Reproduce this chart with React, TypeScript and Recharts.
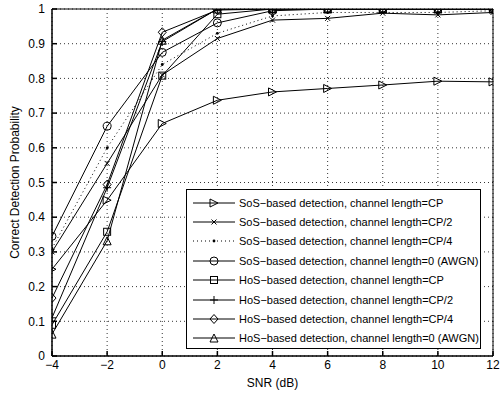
import React from "react";
import {
    CartesianGrid,
    Legend,
    Line,
    LineChart,
    ReferenceLine,
    XAxis,
    YAxis
} from "recharts";

const snr = [-4, -2, 0, 2, 4, 6, 8, 10, 12];
const xTicks = [-4, -2, 0, 2, 4, 6, 8, 10, 12];
const yTicks = [0, 0.1, 0.2, 0.3, 0.4, 0.5, 0.6, 0.7, 0.8, 0.9, 1];

const sosCP = [0.25, 0.449, 0.67, 0.737, 0.761, 0.771, 0.781, 0.792, 0.79];
const sosCP2 = [0.3, 0.555, 0.81, 0.915, 0.968, 0.973, 0.988, 0.983, 0.99];
const sosCP4 = [0.31, 0.6, 0.84, 0.93, 0.98, 0.99, 0.99, 0.99, 0.995];
const sosAWGN = [0.345, 0.662, 0.875, 0.96, 0.995, 1, 1, 1, 1];
const hosCP = [0.09, 0.358, 0.808, 0.985, 1, 1, 1, 1, 1];
const hosCP2 = [0.11, 0.485, 0.906, 1, 1, 1, 1, 1, 1];
const hosCP4 = [0.167, 0.494, 0.933, 0.997, 1, 1, 1, 1, 1];
const hosAWGN = [0.063, 0.332, 0.91, 1, 1, 1, 1, 1, 1];

const seriesNames = [
    "SoS\u2212based detection, channel length=CP",
    "SoS\u2212based detection, channel length=CP/2",
    "SoS\u2212based detection, channel length=CP/4",
    "SoS\u2212based detection, channel length=0 (AWGN)",
    "HoS\u2212based detection, channel length=CP",
    "HoS\u2212based detection, channel length=CP/2",
    "HoS\u2212based detection, channel length=CP/4",
    "HoS\u2212based detection, channel length=0 (AWGN)"
];

type Shape = "tright" | "x" | "dot" | "circle" | "square" | "plus" | "diamond" | "tup";

const series: { key: string; name: string; values: number[]; shape: Shape; dashed?: boolean }[] = [
    {key: "sosCP", name: seriesNames[0], values: sosCP, shape: "tright"},
    {key: "sosCP2", name: seriesNames[1], values: sosCP2, shape: "x"},
    {key: "sosCP4", name: seriesNames[2], values: sosCP4, shape: "dot", dashed: true},
    {key: "sosAWGN", name: seriesNames[3], values: sosAWGN, shape: "circle"},
    {key: "hosCP", name: seriesNames[4], values: hosCP, shape: "square"},
    {key: "hosCP2", name: seriesNames[5], values: hosCP2, shape: "plus"},
    {key: "hosCP4", name: seriesNames[6], values: hosCP4, shape: "diamond"},
    {key: "hosAWGN", name: seriesNames[7], values: hosAWGN, shape: "tup"}
];

const data = snr.map((x, i) => {
    const row: Record<string, number> = {snr: x};
    series.forEach(s => {
        row[s.key] = s.values[i];
    });
    return row;
});

const marker = (shape: Shape, cx: number, cy: number, key?: string) => {
    const r = 4;
    const common = {fill: "none", stroke: "#000", strokeWidth: 1};
    switch (shape) {
        case "tright":
            return <polygon key={key} {...common} points={`${cx - r},${cy - r} ${cx + r},${cy} ${cx - r},${cy + r}`}/>;
        case "tup":
            return <polygon key={key} {...common} points={`${cx},${cy - r} ${cx + r},${cy + r} ${cx - r},${cy + r}`}/>;
        case "x":
            return <path key={key} {...common} d={`M${cx - 2.5},${cy - 2.5}L${cx + 2.5},${cy + 2.5}M${cx - 2.5},${cy + 2.5}L${cx + 2.5},${cy - 2.5}`}/>;
        case "plus":
            return <path key={key} {...common} d={`M${cx - r},${cy}L${cx + r},${cy}M${cx},${cy - r}L${cx},${cy + r}`}/>;
        case "dot":
            return <circle key={key} cx={cx} cy={cy} r={1.4} fill="#000"/>;
        case "circle":
            return <circle key={key} {...common} cx={cx} cy={cy} r={r}/>;
        case "square":
            return <rect key={key} {...common} x={cx - 3.5} y={cy - 3.5} width={7} height={7}/>;
        case "diamond":
            return <polygon key={key} {...common} points={`${cx},${cy - r - 0.5} ${cx + r},${cy} ${cx},${cy + r + 0.5} ${cx - r},${cy}`}/>;
    }
};

const LegendBox = () => (
    <div style={{
        border: "1px solid #000",
        background: "#fff",
        padding: "3px 0 4px 0",
        boxSizing: "border-box",
        width: 295,
        height: 160,
        fontFamily: "'Liberation Sans', Arial, sans-serif",
        fontSize: 11,
        color: "#000"
    }}>
        {series.map(s => (
            <div key={s.key} style={{display: "flex", alignItems: "center", height: 19.4}}>
                <svg width={52} height={12} style={{flex: "none"}}>
                    <line x1={6} x2={48} y1={6} y2={6} stroke="#000" strokeWidth={1}
                          strokeDasharray={s.dashed ? "1 3" : undefined}/>
                    {marker(s.shape, 27, 6)}
                </svg>
                <span style={{whiteSpace: "nowrap"}}>{s.name}</span>
            </div>
        ))}
    </div>
);

const tickStyle = {fill: "#000", fontSize: 12, fontFamily: "'Liberation Sans', Arial, sans-serif"};

const App = () => {
    return (
        <div style={{position: "absolute", left: 0, top: 0, background: "#fff"}}>
            <LineChart width={500} height={396} data={data}
                       margin={{top: 9, right: 7, bottom: 0, left: 0}}>
                <CartesianGrid stroke="#000" strokeDasharray="1 3" strokeWidth={0.8}/>
                <XAxis type="number" dataKey="snr" domain={[-4, 12]} ticks={xTicks}
                       allowDataOverflow height={40} stroke="#000" strokeWidth={1.5}
                       tickSize={-5} tickMargin={9} tick={tickStyle}
                       tickFormatter={(v: number) => (v < 0 ? "\u2212" + Math.abs(v) : String(v))}
                       label={{value: "SNR (dB)", position: "insideBottom", offset: 9, ...tickStyle}}/>
                <YAxis type="number" domain={[0, 1]} ticks={yTicks} width={52}
                       allowDataOverflow stroke="#000" strokeWidth={1.5}
                       tickSize={-5} tickMargin={12} tick={tickStyle}
                       tickFormatter={(v: number) => String(Math.round(v * 10) / 10)}
                       label={{
                           value: "Correct Detection Probability",
                           angle: -90,
                           position: "insideLeft",
                           offset: 15,
                           style: {textAnchor: "middle"},
                           ...tickStyle
                       }}/>
                <ReferenceLine y={1} stroke="#000" strokeWidth={1}/>
                <ReferenceLine x={12} stroke="#000" strokeWidth={1}/>
                {series.map(s => (
                    <Line key={s.key} dataKey={s.key} name={s.name} type="linear"
                          stroke="#000" strokeWidth={1}
                          strokeDasharray={s.dashed ? "1 3" : undefined}
                          isAnimationActive={false}
                          dot={(p: any) => marker(s.shape, p.cx, p.cy, `${s.key}-${p.index}`)}
                          activeDot={false}/>
                ))}
                <Legend layout="vertical" align="center" verticalAlign="middle"
                        content={() => <LegendBox/>}
                        wrapperStyle={{left: 186, top: 189, width: 295}}/>
            </LineChart>
        </div>
    );
};

export default App;
